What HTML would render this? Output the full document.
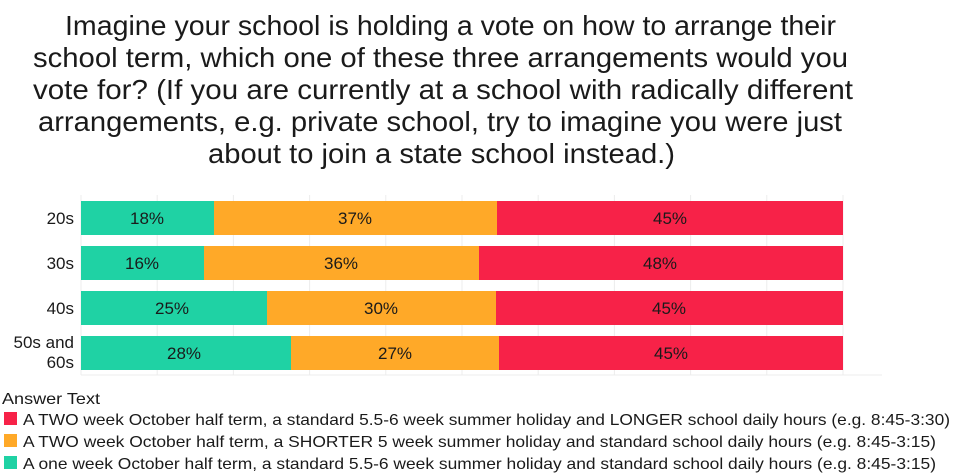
<!DOCTYPE html>
<html><head><meta charset="utf-8"><style>
html,body{margin:0;padding:0;background:#fff;width:960px;height:474px;overflow:hidden}
svg{display:block;font-family:"Liberation Sans",sans-serif}
</style></head><body>
<svg width="960" height="474" viewBox="0 0 960 474">
<g font-size="28" fill="#1a1a1a" lengthAdjust="spacingAndGlyphs">
<text x="65" y="35" textLength="771" lengthAdjust="spacingAndGlyphs">Imagine your school is holding a vote on how to arrange their</text>
<text x="33" y="67" textLength="815" lengthAdjust="spacingAndGlyphs">school term, which one of these three arrangements would you</text>
<text x="33" y="99" textLength="820" lengthAdjust="spacingAndGlyphs">vote for? (If you are currently at a school with radically different</text>
<text x="38" y="131" textLength="804" lengthAdjust="spacingAndGlyphs">arrangements, e.g. private school, try to imagine you were just</text>
<text x="208" y="163" textLength="467" lengthAdjust="spacingAndGlyphs">about to join a state school instead.)</text>
</g>
<g stroke="#ececec" stroke-width="1">
<line x1="81" y1="195" x2="81" y2="375"/><line x1="157.2" y1="195" x2="157.2" y2="375"/><line x1="233.4" y1="195" x2="233.4" y2="375"/><line x1="309.6" y1="195" x2="309.6" y2="375"/><line x1="385.8" y1="195" x2="385.8" y2="375"/><line x1="462" y1="195" x2="462" y2="375"/><line x1="538.2" y1="195" x2="538.2" y2="375"/><line x1="614.4" y1="195" x2="614.4" y2="375"/><line x1="690.6" y1="195" x2="690.6" y2="375"/><line x1="766.8" y1="195" x2="766.8" y2="375"/><line x1="843" y1="195" x2="843" y2="375"/>
<line x1="81" y1="375" x2="882" y2="375"/>
</g>
<g>
<rect x="81" y="201" width="133" height="34" fill="#1fd2a4"/><rect x="214" y="201" width="283" height="34" fill="#ffa928"/><rect x="497" y="201" width="346" height="34" fill="#f72248"/>
<rect x="81" y="246" width="123" height="34" fill="#1fd2a4"/><rect x="204" y="246" width="275" height="34" fill="#ffa928"/><rect x="479" y="246" width="364" height="34" fill="#f72248"/>
<rect x="81" y="291" width="186" height="34" fill="#1fd2a4"/><rect x="267" y="291" width="229" height="34" fill="#ffa928"/><rect x="496" y="291" width="347" height="34" fill="#f72248"/>
<rect x="81" y="336" width="210" height="34" fill="#1fd2a4"/><rect x="291" y="336" width="208" height="34" fill="#ffa928"/><rect x="499" y="336" width="344" height="34" fill="#f72248"/>
</g>
<g font-size="17" fill="#1a1a1a" text-anchor="middle">
<text x="147" y="224">18%</text><text x="355" y="224">37%</text><text x="670" y="224">45%</text>
<text x="142" y="269">16%</text><text x="341" y="269">36%</text><text x="660" y="269">48%</text>
<text x="172" y="314">25%</text><text x="381" y="314">30%</text><text x="669" y="314">45%</text>
<text x="184" y="359">28%</text><text x="395" y="359">27%</text><text x="671" y="359">45%</text>
</g>
<g font-size="17" fill="#1a1a1a" text-anchor="end">
<text x="74" y="224">20s</text><text x="74" y="269">30s</text><text x="74" y="314">40s</text>
<text x="74" y="348">50s and</text><text x="74" y="368">60s</text>
</g>
<g font-size="16" fill="#1a1a1a">
<text x="2" y="404" textLength="98" lengthAdjust="spacingAndGlyphs">Answer Text</text>
<rect x="4" y="412" width="13" height="13" fill="#f72248"/><text x="23" y="425" textLength="927" lengthAdjust="spacingAndGlyphs">A TWO week October half term, a standard 5.5-6 week summer holiday and LONGER school daily hours (e.g. 8:45-3:30)</text>
<rect x="4" y="434" width="13" height="13" fill="#ffa928"/><text x="23" y="447" textLength="913" lengthAdjust="spacingAndGlyphs">A TWO week October half term, a SHORTER 5 week summer holiday and standard school daily hours (e.g. 8:45-3:15)</text>
<rect x="4" y="456" width="13" height="13" fill="#1fd2a4"/><text x="23" y="469" textLength="913" lengthAdjust="spacingAndGlyphs">A one week October half term, a standard 5.5-6 week summer holiday and standard school daily hours (e.g. 8:45-3:15)</text>
</g>
</svg>
</body></html>
